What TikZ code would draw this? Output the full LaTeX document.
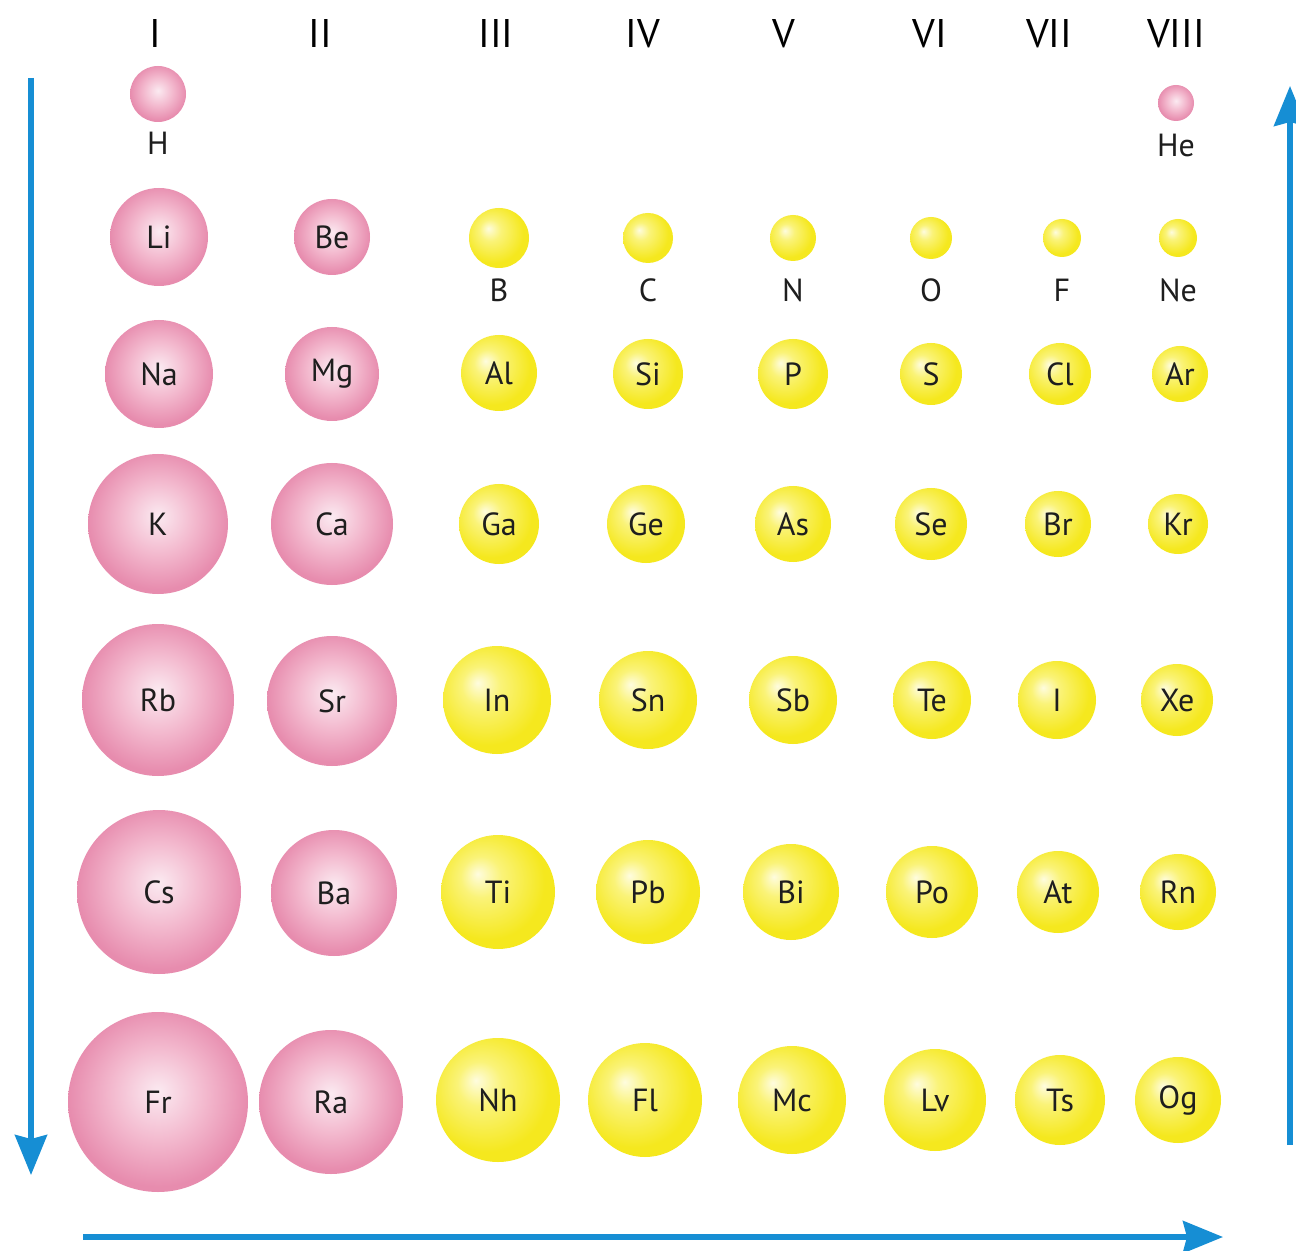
\documentclass[tikz,border=0pt]{standalone}
\usepackage{fontspec}
\setmainfont{PT Sans}
\usetikzlibrary{arrows.meta}
\definecolor{arrowblue}{RGB}{22,142,212}
\definecolor{pinkin}{RGB}{251,234,241}
\definecolor{pinkmid}{RGB}{243,185,206}
\definecolor{pinkout}{RGB}{231,140,174}
\definecolor{ylwin}{RGB}{254,252,222}
\definecolor{ylwmid}{RGB}{250,243,120}
\definecolor{ylwout}{RGB}{245,232,30}
\definecolor{labelgray}{RGB}{30,30,30}
\pgfdeclareradialshading{pinkball}{\pgfpoint{0bp}{3bp}}{color(0bp)=(pinkin); color(13bp)=(pinkmid); color(25bp)=(pinkout); color(50bp)=(pinkout)}
\pgfdeclareradialshading{ylwball}{\pgfpoint{-9bp}{8bp}}{color(0bp)=(ylwin); color(9bp)=(ylwmid); color(25bp)=(ylwout); color(50bp)=(ylwout)}
\tikzset{
  atom/.style={circle, inner sep=0pt, text=labelgray, font=\fontsize{16}{16}\selectfont},
  pball/.style={atom, shading=pinkball},
  yball/.style={atom, shading=ylwball},
  symb/.style={text=labelgray, font=\fontsize{16}{16}\selectfont},
  group/.style={text=black, font=\fontsize{20}{20}\selectfont},
  bluearrow/.style={draw=arrowblue, line width=2.6pt, -{Stealth[length=20pt,width=16pt,inset=2pt]}}
}
\begin{document}
\begin{tikzpicture}[x=0.5pt,y=-0.5pt]
\useasboundingbox[fill=white] (0,0) rectangle (1296,1251);
\foreach \g/\x in {I/155,II/320,III/496,IV/643,V/784,VI/930,VII/1049,VIII/1176}
  \node[group] (g\g) at (\x,34) {\g};
\def\yT{94};
\node[pball, minimum size=28pt] (H) at (158,\yT) {};
\node[symb] (Hlab) at (158,143) {H};
\node[pball, minimum size=18pt] (He) at (1176,103) {};
\node[symb] (Helab) at (1176,145) {He};
\foreach \el/\x/\y/\r in {Li/159/237/49, Be/332/237/38,
  Na/159/374/54, Mg/332/374/47,
  K/158/524/70, Ca/332/524/61,
  Rb/158/700/76, Sr/332/701/65,
  Cs/159/892/82, Ba/334/893/63,
  Fr/158/1102/90, Ra/331/1102/72}
  \node[pball, minimum size=\r pt] (\el) at (\x,\y) {\el};
\foreach \el/\x/\r in {B/499/30, C/648/25, N/793/23, O/931/21, F/1062/19, Ne/1178/19}{
  \node[yball, minimum size=\r pt] (\el) at (\x,238) {};
  \node[symb] (\el lab) at (\x,290) {\el};
}
\foreach \el/\x/\y/\r in {Al/499/373/38, Si/648/374/35, P/793/374/35, S/931/374/31, Cl/1060/374/31, Ar/1180/374/28,
  Ga/499/524/40, Ge/646/524/39, As/793/524/38, Se/931/524/36, Br/1058/524/33, Kr/1178/524/30,
  In/497/700/54, Sn/648/700/49, Sb/793/700/44, Te/932/700/39, I/1057/700/39, Xe/1177/700/36,
  Ti/498/892/57, Pb/648/892/52, Bi/791/892/48, Po/932/892/46, At/1058/892/41, Rn/1178/892/38,
  Nh/498/1100/62, Fl/645/1100/57, Mc/792/1100/54, Lv/935/1100/51, Ts/1060/1100/45, Og/1178/1100/43}
  \node[yball, minimum size=\r pt] (\el) at (\x,\y) {\el};
\coordinate (downS) at (31,78);
\coordinate (downE) at (31,1175);
\coordinate (acrossS) at (83,1237);
\coordinate (acrossE) at (1223,1237);
\coordinate (upS) at (1290,1145);
\coordinate (upE) at (1290,86);
\draw[bluearrow] (downS) -- (downE);
\draw[bluearrow] (acrossS) -- (acrossE);
\draw[bluearrow] (upS) -- (upE);
\end{tikzpicture}
\end{document}
